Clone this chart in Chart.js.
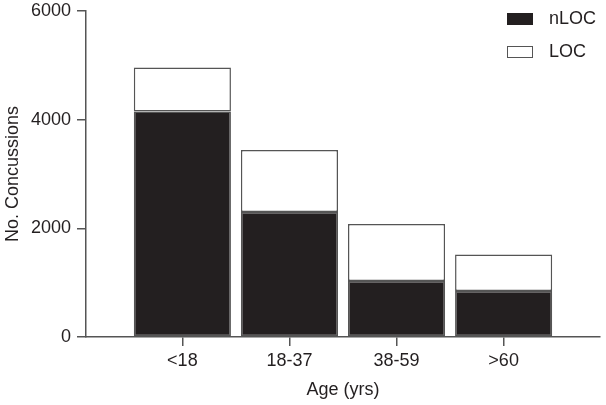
<!DOCTYPE html>
<html>
<head>
<meta charset="utf-8">
<script src="https://cdn.jsdelivr.net/npm/chart.js@4"></script>
<style>
  html, body { margin: 0; padding: 0; background: #fff; }
  #wrap { position: relative; width: 606px; height: 405px; }
  .leg { position: absolute; font-family: 'Liberation Sans', Arial, sans-serif; font-size: 18px; color: #231f20; }
  .box { position: absolute; width: 26px; height: 12px; box-sizing: border-box; }
</style>
</head>
<body>
<div id="wrap">
  <canvas id="grafico" width="606" height="405"></canvas>
  <div class="box" style="left:507px;top:13px;background:#231f20;"></div>
  <div class="leg" style="left:549px;top:8px;">nLOC</div>
  <div class="box" style="left:507px;top:46px;background:#fff;border:1.5px solid #555;"></div>
  <div class="leg" style="left:549px;top:41px;">LOC</div>
</div>
<script>
const categorias = ['<18', '18-37', '38-59', '>60'];
const nLOC = [4150, 2300, 1030, 845];
const LOC = [810, 1140, 1050, 675];
const yTicks = [0, 2000, 4000, 6000];

const fonte = { family: "'Liberation Sans', Arial, sans-serif", size: 18 };
const corLinha = '#555';
const corTexto = '#231f20';

function pontos(valores) {
    return valores.map((v, i) => ({ x: i, y: v }));
}

const ctx = document.getElementById('grafico').getContext('2d');

new Chart(ctx, {
    type: 'bar',
    data: {
        datasets: [
            {
                label: 'nLOC',
                data: pontos(nLOC),
                backgroundColor: '#231f20',
                borderColor: corLinha,
                borderWidth: 1.5,
                borderSkipped: false
            },
            {
                label: 'LOC',
                data: pontos(LOC),
                backgroundColor: '#ffffff',
                borderColor: corLinha,
                borderWidth: 1.5,
                borderSkipped: false
            }
        ]
    },
    options: {
        responsive: false,
        animation: false,
        layout: { padding: { top: 0, right: 6, left: 0, bottom: 0 } },
        datasets: { bar: { barPercentage: 0.907, categoryPercentage: 1 } },
        plugins: {
            legend: { display: false },
            tooltip: { enabled: false }
        },
        scales: {
            x: {
                type: 'linear',
                stacked: true,
                offset: false,
                min: -0.9,
                max: 3.9,
                border: { display: true, color: corLinha, width: 1.5 },
                grid: { display: true, offset: false, drawOnChartArea: false, drawTicks: true, tickLength: 9, color: corLinha, lineWidth: 1.5 },
                ticks: {
                    stepSize: 1,
                    includeBounds: false,
                    autoSkip: false,
                    maxRotation: 0,
                    padding: 4,
                    color: corTexto,
                    font: fonte,
                    callback: v => categorias[v] ?? ''
                },
                title: { display: true, text: 'Age (yrs)', color: corTexto, font: fonte, padding: { top: 2, bottom: 4 } },
                afterFit: s => { s.height = 68; }
            },
            y: {
                stacked: true,
                min: 0,
                max: 6000,
                border: { display: true, color: corLinha, width: 1.5 },
                grid: { display: true, drawOnChartArea: false, drawTicks: true, tickLength: 9, color: corLinha, lineWidth: 1.5 },
                afterBuildTicks: s => { s.ticks = yTicks.map(v => ({ value: v })); },
                ticks: {
                    padding: 6,
                    color: corTexto,
                    font: { family: fonte.family, size: 18, lineHeight: 0.55 },
                    callback: v => String(v)
                },
                title: { display: true, text: 'No. Concussions', color: corTexto, font: fonte, padding: { top: 2, bottom: 4 } },
                afterFit: s => { s.width = 86; }
            }
        }
    }
});
</script>
</body>
</html>
